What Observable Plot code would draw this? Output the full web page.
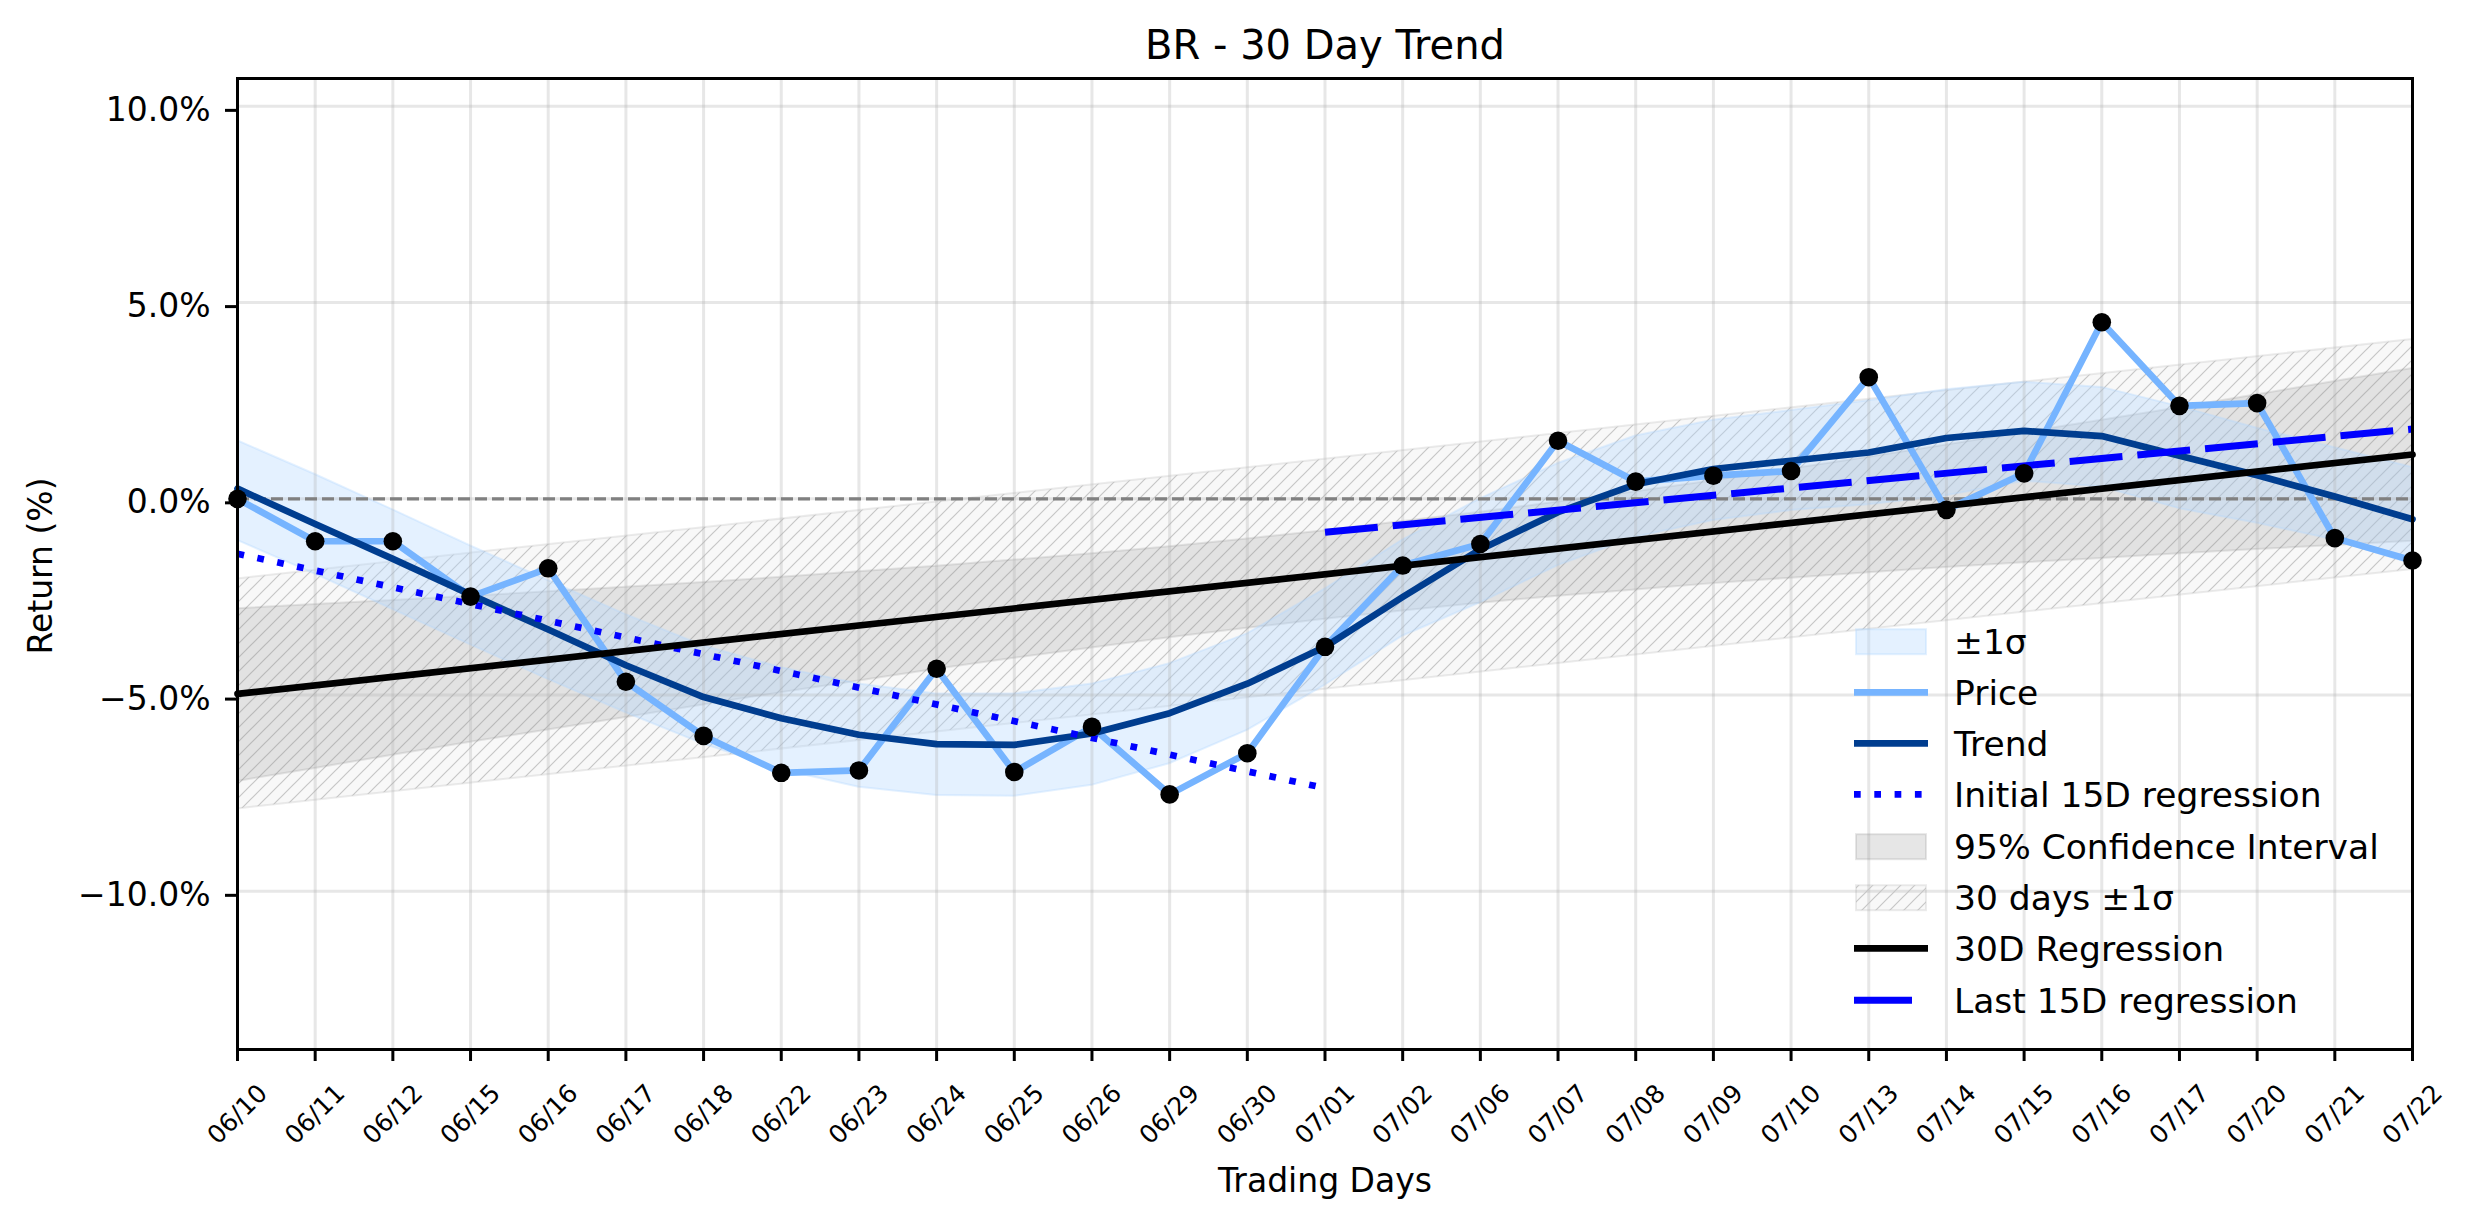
<!DOCTYPE html>
<html><head><meta charset="utf-8">
<script src="https://cdn.jsdelivr.net/npm/d3@7"></script>
<script src="https://cdn.jsdelivr.net/npm/@observablehq/plot@0.6"></script>
<style>html,body{margin:0;padding:0;background:#fff;} #chart svg{display:block;}</style>
</head><body><div id="chart"></div>
<script>
// ---- data ----
const dates = ["06/10","06/11","06/12","06/15","06/16","06/17","06/18","06/22","06/23","06/24","06/25","06/26","06/29","06/30","07/01","07/02","07/06","07/07","07/08","07/09","07/10","07/13","07/14","07/15","07/16","07/17","07/20","07/21","07/22"];
const price = [0.00,-1.08,-1.08,-2.49,-1.77,-4.66,-6.04,-6.98,-6.92,-4.33,-6.96,-5.81,-7.53,-6.48,-3.77,-1.70,-1.15,1.48,0.44,0.59,0.71,3.10,-0.28,0.65,4.50,2.37,2.44,-1.00,-1.57];
const trend = [0.26,-0.64,-1.53,-2.44,-3.33,-4.24,-5.05,-5.59,-6.01,-6.25,-6.27,-5.98,-5.46,-4.71,-3.77,-2.50,-1.29,-0.34,0.37,0.76,0.97,1.18,1.55,1.73,1.60,1.10,0.60,0.06,-0.52];
const sigmaUpper = [1.48,0.62,-0.28,-1.20,-2.08,-2.95,-3.75,-4.30,-4.72,-4.97,-4.97,-4.72,-4.20,-3.44,-2.30,-1.05,0.00,0.90,1.60,2.00,2.25,2.50,2.78,2.97,2.84,2.35,1.80,1.30,0.80];
const sigmaLower = [-1.06,-1.92,-2.82,-3.72,-4.60,-5.45,-6.25,-6.90,-7.35,-7.56,-7.58,-7.30,-6.75,-5.90,-4.75,-3.50,-2.65,-1.70,-0.98,-0.55,-0.30,-0.15,0.08,0.45,0.30,-0.25,-0.62,-1.05,-1.66];
const ciUpper = [-2.80,-2.69,-2.59,-2.48,-2.37,-2.25,-2.13,-2.00,-1.86,-1.72,-1.56,-1.40,-1.22,-1.02,-0.81,-0.58,-0.34,-0.08,0.18,0.46,0.76,1.06,1.37,1.69,2.00,2.32,2.65,2.99,3.32];
const ciLower = [-7.20,-6.87,-6.53,-6.20,-5.89,-5.57,-5.25,-4.94,-4.64,-4.34,-4.06,-3.80,-3.54,-3.30,-3.07,-2.86,-2.66,-2.48,-2.32,-2.16,-2.02,-1.88,-1.75,-1.63,-1.52,-1.40,-1.29,-1.19,-1.08];
const reg30X = [0, 28], reg30Y = [-4.97, 1.13];
const band30Upper = [-2.04, 4.06], band30Lower = [-7.90, -1.80];
const init15X = [0, 14], init15Y = [-1.40, -7.37];
const last15X = [14, 28], last15Y = [-0.85, 1.78];
const yTicks = [-10, -5, 0, 5, 10];
const legendLabels = ["±1σ","Price","Trend","Initial 15D regression","95% Confidence Interval","30 days ±1σ","30D Regression","Last 15D regression"];

// ---- tables built from the arrays ----
const idx = dates.map((d, i) => i);
const rows = idx.map(i => ({i, price: price[i], trend: trend[i], su: sigmaUpper[i], sl: sigmaLower[i], cu: ciUpper[i], cl: ciLower[i]}));
const band30 = reg30X.map((x, k) => ({x, lo: band30Lower[k], hi: band30Upper[k]}));
const reg30 = reg30X.map((x, k) => ({x, y: reg30Y[k]}));
const init15 = init15X.map((x, k) => ({x, y: init15Y[k]}));
const last15 = last15X.map((x, k) => ({x, y: last15Y[k]}));

const C = {price: "#76b4ff", trend: "#003d8f", sigma: "#b3d7ff", blue: "#0000ff"};
const fmt = d => (d < 0 ? "\u2212" : "") + Math.abs(d).toFixed(1) + "%";

const plot = Plot.plot({
  width: 2474, height: 1224,
  marginLeft: 237, marginRight: 62, marginTop: 78, marginBottom: 175,
  style: {fontFamily: "'DejaVu Sans', sans-serif", fontSize: "33px", background: "white", color: "black", overflow: "visible"},
  x: {domain: [0, 28]},
  y: {domain: [-14.03, 10.71]},
  marks: [
    // 30 days ±1σ (hatched)
    Plot.areaY(band30, {x: "x", y1: "lo", y2: "hi", fill: "#808080", fillOpacity: 0.06, stroke: "#808080", strokeOpacity: 0.15, strokeWidth: 2}),
    Plot.areaY(band30, {x: "x", y1: "lo", y2: "hi", fill: "url(#hatch)"}),
    // 95% CI
    Plot.areaY(rows, {x: "i", y1: "cl", y2: "cu", fill: "#808080", fillOpacity: 0.18, stroke: "#808080", strokeOpacity: 0.18, strokeWidth: 2}),
    // ±1σ
    Plot.areaY(rows, {x: "i", y1: "sl", y2: "su", fill: C.sigma, fillOpacity: 0.35, stroke: C.sigma, strokeOpacity: 0.35, strokeWidth: 2}),
    // grid
    Plot.ruleX(idx, {x: d => d, stroke: "#b0b0b0", strokeOpacity: 0.3, strokeWidth: 3}),
    Plot.ruleY(yTicks, {y: d => d, stroke: "#b0b0b0", strokeOpacity: 0.3, strokeWidth: 3}),
    // zero line
    Plot.ruleY([0], {stroke: "#808080", strokeWidth: 3.3, strokeDasharray: "12,5"}),
    // lines
    Plot.line(rows, {x: "i", y: "price", stroke: C.price, strokeWidth: 6.7}),
    Plot.line(rows, {x: "i", y: "trend", stroke: C.trend, strokeWidth: 6.7}),
    Plot.line(init15, {x: "x", y: "y", stroke: C.blue, strokeWidth: 6.7, strokeDasharray: "6.7,13.6", strokeLinecap: "butt"}),
    Plot.line(last15, {x: "x", y: "y", stroke: C.blue, strokeWidth: 7, strokeDasharray: "53,15", strokeLinecap: "butt"}),
    Plot.line(reg30, {x: "x", y: "y", stroke: "black", strokeWidth: 6.7}),
    Plot.dot(rows, {x: "i", y: "price", r: 9.3, fill: "black"}),
    // frame & axes
    Plot.frame({stroke: "black", strokeWidth: 3}),
    Plot.axisY({ticks: yTicks, tickSize: 12, tickPadding: 15, tickFormat: fmt, strokeWidth: 3, fontSize: 33, label: null, dy: 4}),
    Plot.axisX({ticks: idx, tickSize: 12, tickFormat: () => "", strokeWidth: 3, label: null}),
    Plot.text(idx, {x: d => d, text: d => dates[d], frameAnchor: "bottom", dy: 65, rotate: -45, textAnchor: "middle", lineAnchor: "middle", fontSize: 25}),
    // titles
    Plot.text(["BR - 30 Day Trend"], {frameAnchor: "top", dy: -19.7, lineAnchor: "bottom", fontSize: 40}),
    Plot.text(["Trading Days"], {frameAnchor: "bottom", dy: 142, lineAnchor: "bottom", fontSize: 33}),
    Plot.text(["Return (%)"], {frameAnchor: "left", dx: -196, dy: 2, rotate: -90, textAnchor: "middle", lineAnchor: "middle", fontSize: 33})
  ]
});

// hatch pattern
const svg = d3.select(plot);
const defs = svg.insert("defs", ":first-child");
const s = 14;
const pat = defs.append("pattern").attr("id", "hatch").attr("patternUnits", "userSpaceOnUse").attr("width", s).attr("height", s);
pat.append("path").attr("d", `M-2,2 L2,-2 M0,${s} L${s},0 M${s-2},${s+2} L${s+2},${s-2}`)
  .attr("stroke", "#c6c6c6").attr("stroke-width", 1.2).attr("fill", "none");

// legend
const rowsY = [641.7, 692.3, 743.3, 794.3, 846.7, 897.7, 948.3, 1000.3];
const lg = svg.append("g").attr("font-family", "'DejaVu Sans', sans-serif").attr("font-size", 34.5).attr("text-anchor", "start");
const hx0 = 1854, hx1 = 1928;
function patch(y, fill, op, stroke, sop) {
  lg.append("rect").attr("x", 1856).attr("y", y - 12.5).attr("width", 70).attr("height", 25)
    .attr("fill", fill).attr("fill-opacity", op).attr("stroke", stroke).attr("stroke-opacity", sop).attr("stroke-width", 2);
}
function hline(y, color, w, dash, x1) {
  const l = lg.append("line").attr("x1", hx0).attr("x2", x1 || hx1).attr("y1", y).attr("y2", y)
    .attr("stroke", color).attr("stroke-width", w);
  if (dash) l.attr("stroke-dasharray", dash);
}
patch(rowsY[0], C.sigma, 0.35, C.sigma, 0.35);
hline(rowsY[1], C.price, 6.7);
hline(rowsY[2], C.trend, 6.7);
hline(rowsY[3], C.blue, 6.7, "6.7,13.6");
patch(rowsY[4], "#808080", 0.2, "#808080", 0.2);
patch(rowsY[5], "#808080", 0.06, "#808080", 0.15);
lg.append("rect").attr("x", 1856).attr("y", rowsY[5] - 12.5).attr("width", 70).attr("height", 25).attr("fill", "url(#hatch)");
hline(rowsY[6], "black", 6.7);
hline(rowsY[7], C.blue, 7, null, 1912);
legendLabels.forEach((t, k) => {
  lg.append("text").attr("x", 1954).attr("y", rowsY[k] + 12.5).attr("text-anchor", "start").text(t);
});

document.getElementById("chart").appendChild(plot);
</script>
</body></html>
